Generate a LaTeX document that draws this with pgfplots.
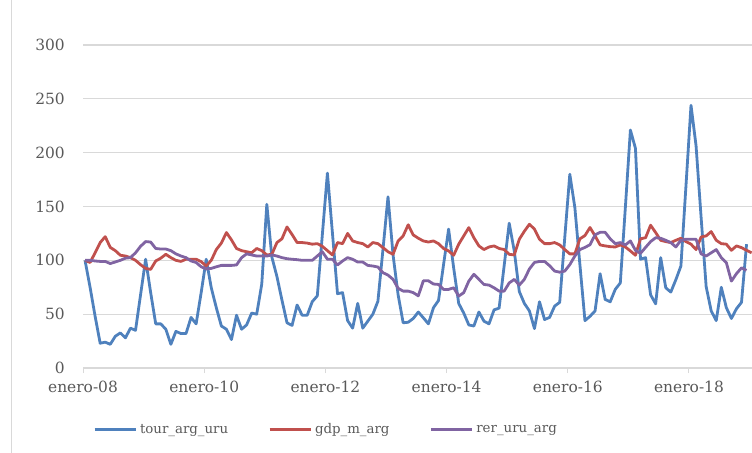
\documentclass[border=0pt]{standalone}
\usepackage{pgfplots}
\pgfplotsset{compat=1.18}
\usepackage{pgfplotstable}
\usepackage{fontspec}
\setmainfont{DejaVu Serif}
\definecolor{tblue}{HTML}{4F81BD}
\definecolor{tred}{HTML}{C0504D}
\definecolor{tpurple}{HTML}{8064A2}
\definecolor{gridc}{HTML}{D9D9D9}
\definecolor{txt}{HTML}{595959}

\pgfplotstableread{
m tour gdp rer
0 100 100 100
1 75 98 100
2 48 107 99.4
3 23 116.5 99
4 24 122 99
5 22 112 97
6 29.5 109 98.5
7 32.6 104.7 100
8 28 104 102
9 37 102.5 102.5
10 35 100 107
11 68 96 113
12 101 92.5 117.4
13 70 91.6 117
14 41 99.4 111
15 41 102 110.5
16 36 105.6 110.5
17 22 102.5 109
18 34 100 106
19 32 99 104
20 32 101 102.5
21 47 101 99.4
22 41 101 98
23 70 98.8 94
24 101 94.7 92
25 74.5 100 92.5
26 56 110 94
27 39 116 95.3
28 36 125.8 95.3
29 26.4 119 95.3
30 49 111 95.7
31 36 109 102.5
32 40 108 106
33 51 107 105
34 50 111 104
35 78 109 104
36 152 105 104
37 103 105.6 105
38 85 116.5 104
39 63 120 102.5
40 42 131 101.5
41 39.5 124 101
42 58.5 116.5 100.6
43 49 116.5 100
44 49 116 100
45 61.6 115 100
46 67 115.5 104
47 124 113 108
48 181 109 101
49 125 105 101
50 69 116.5 95.7
51 70 115.5 99.4
52 44 125 102.5
53 37 118 101
54 60 116.5 98.4
55 37 115.5 98.4
56 43.5 112.4 95.3
57 50 116.5 94.7
58 62 115.5 93.8
59 110 111.8 88.5
60 159 108 86.3
61 105 105.6 82.3
62 68 118 74
63 42 122.7 71.4
64 42.5 133 71.4
65 46 123.6 70
66 52 120.5 67
67 46.6 118 81
68 41 117 81
69 56 118 78
70 62.7 115.5 77.6
71 96 111 73
72 129 108.7 73
73 93 104.7 74.5
74 60 115 66.8
75 51 122.7 70
76 40 130.4 80.7
77 39 121 87
78 52 113.4 82.3
79 43.5 110 77.6
80 41 112.4 77
81 54 113.4 74.5
82 55.6 111 71.4
83 95 110 71.4
84 134.5 105.6 79
85 108.7 105 82.3
86 71 119.6 77
87 60 127 82.3
88 53 133.5 92
89 36.6 129 98
90 61.5 119.6 99
91 45 115.5 99
92 47 115.5 95
93 57.5 116.5 90
94 61 114.3 89
95 121 110 90
96 180 106 96
97 149 106 104
98 96 120 110
99 44 123 112
100 48 130.5 114.5
101 53 122.7 123.7
102 87.6 114.3 126
103 63.7 113.4 126
104 61.5 112.7 120
105 73 112.4 115.5
106 79 114.3 116.5
107 149 112.4 114.3
108 221 108.7 118
109 204 104.7 109.3
110 101 120 106.5
111 102.5 121 112
112 68 132.6 117.4
113 59.6 125.8 121
114 102.5 118.6 120.5
115 74.5 117.4 118.6
116 70.5 116.5 116.5
117 82 118.6 112.4
118 94.7 120.5 118.6
119 169 117.4 119.6
120 244 115 119.6
121 206.5 110 119.6
122 140 121.7 106
123 75.6 122.7 104
124 53 126.7 107
125 44 118.6 110
126 75 115.5 102.5
127 56 115 97.8
128 46 109.3 80.7
129 55 113.4 87.6
130 61 111.8 93
131 115 109.3 90.7
132 nan 107 nan
}\data

\begin{document}
\begin{tikzpicture}
\useasboundingbox (0,0) rectangle (752bp,453bp);
\draw[gridc, line width=1bp] (11bp,0) -- (11bp,453bp);
\begin{axis}[
  at={(83bp,85bp)}, anchor=south west,
  width=669bp, height=323bp, scale only axis,
  xmin=-0.4, xmax=132.08, ymin=0, ymax=300,
  axis x line*=bottom, axis y line*=left,
  y axis line style={draw=none},
  x axis line style={gridc, line width=1.2bp},
  ytick={0,50,...,300},
  ymajorgrids,
  grid style={gridc, line width=1.2bp},
  ytick style={draw=none},
  xtick={-0.4,23.6,47.6,71.6,95.6,119.6},
  xticklabels={enero-08,enero-10,enero-12,enero-14,enero-16,enero-18},
  xtick style={gridc, line width=1bp},
  tick align=outside,
  major tick length=5bp,
  /pgf/number format/assume math mode=true,
  ticklabel style={font=\fontsize{15.5}{18}\selectfont, text=txt},
  yticklabel style={anchor=east, inner sep=0pt, xshift=-13bp},
  xticklabel style={anchor=north, inner sep=0pt, yshift=-8bp},
  legend columns=3,
  legend style={at={(axis description cs:0.0105,-0.1900)}, anchor=west,
    draw=none, fill=none, font=\fontsize{13.4}{16}\selectfont, text=txt,
    nodes={inner sep=0pt},
    /tikz/every odd column/.append style={column sep=3bp},
    /tikz/every even column/.append style={column sep=40bp}},
  legend image code/.code={\draw[#1, line width=2.8bp] (0bp,0bp) -- (41bp,0bp);},
  line join=round,
]
\addplot[tblue, line width=2.8bp] table[x=m,y=tour]{\data};
\addlegendentry{tour\_arg\_uru}
\addplot[tred, line width=2.8bp] table[x=m,y=gdp]{\data};
\addlegendentry{gdp\_m\_arg}
\addplot[tpurple, line width=2.8bp] table[x=m,y=rer]{\data};
\addlegendentry{rer\_uru\_arg}
\end{axis}
\end{tikzpicture}
\end{document}
